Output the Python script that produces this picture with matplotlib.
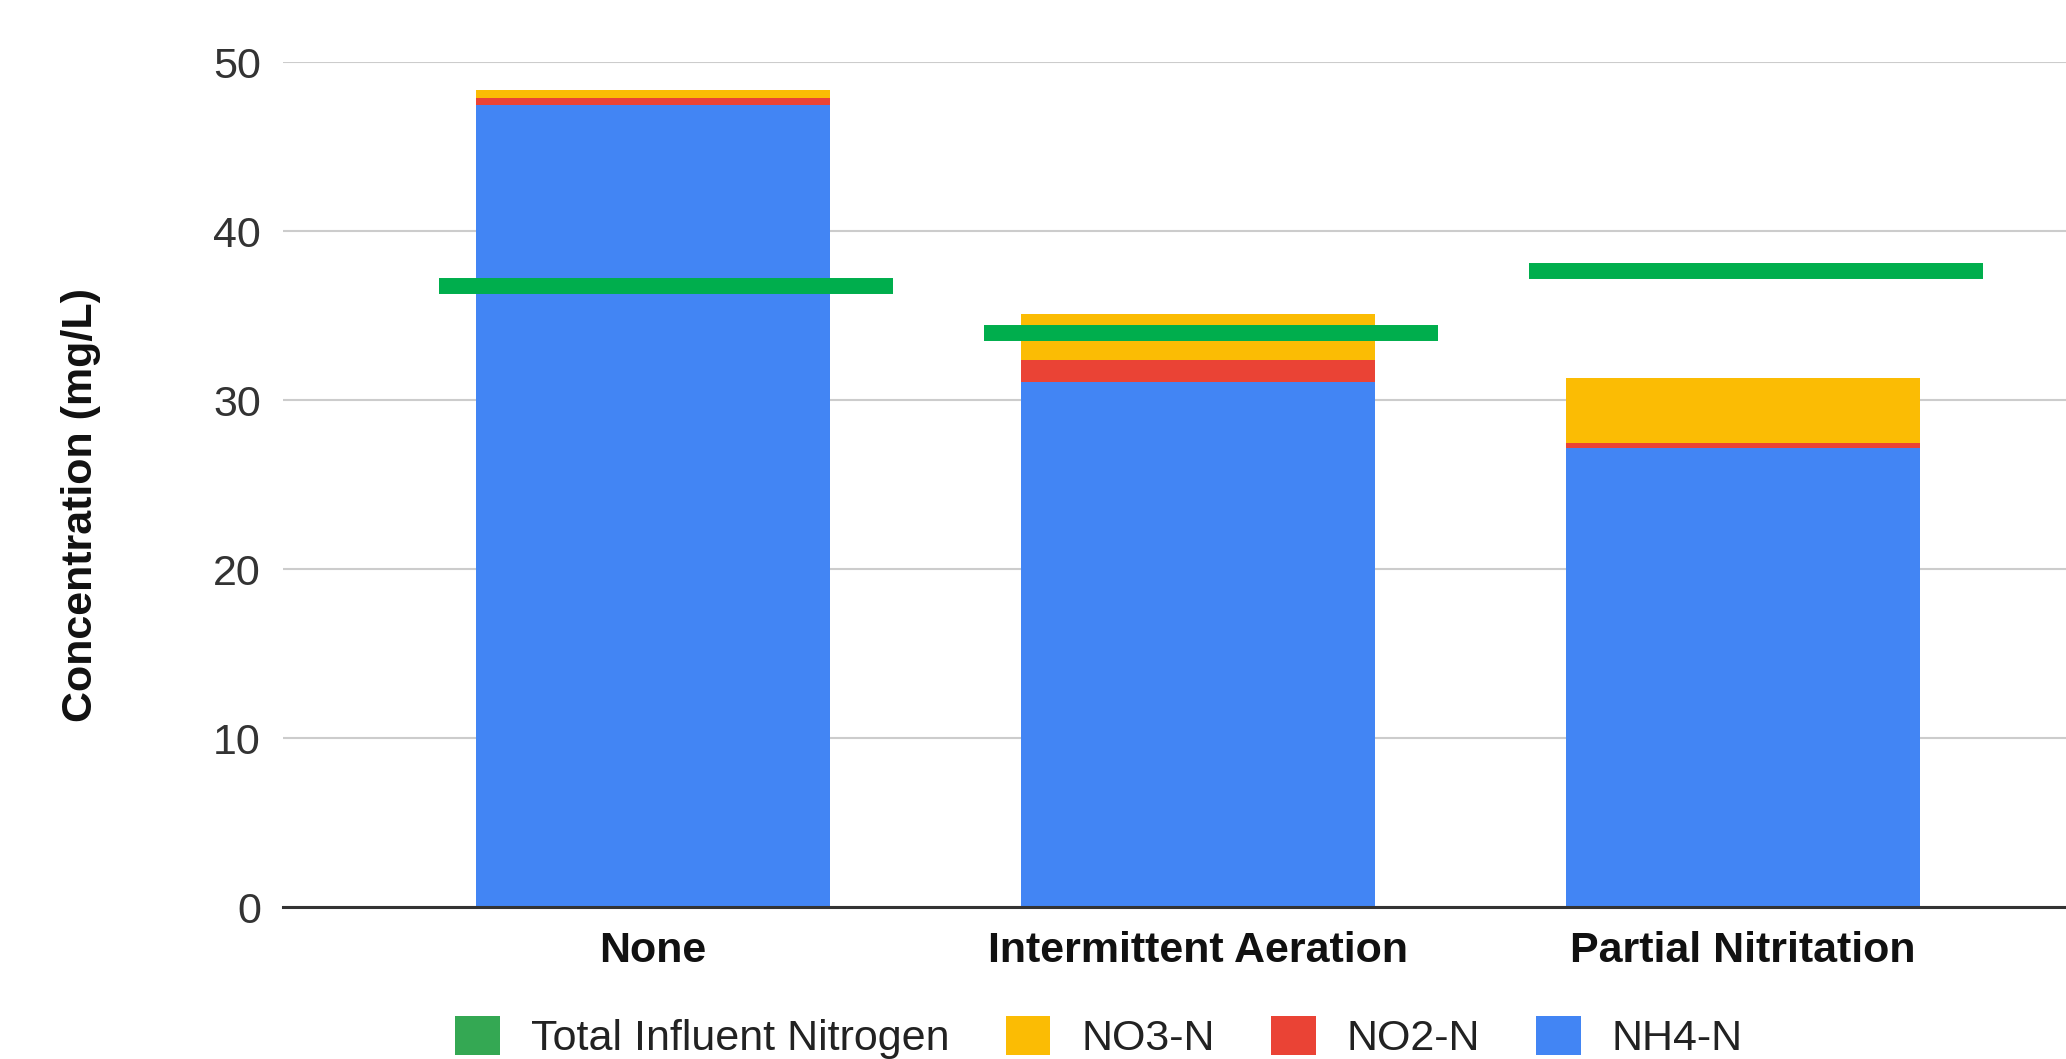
import matplotlib
matplotlib.use("Agg")
import matplotlib.pyplot as plt
from matplotlib.patches import Patch
import numpy as np

# data (mg/L)
categories = ["None", "Intermittent Aeration", "Partial Nitritation"]
nh4 = [47.5, 31.1, 27.2]
no2 = [0.42, 1.28, 0.25]
no3 = [0.44, 2.75, 3.85]
total_influent = [36.75, 34.0, 37.65]

blue = "#4285f4"
red = "#ea4335"
yellow = "#fbbc04"
green = "#00ae4d"

plt.rcParams["font.family"] = ["Liberation Sans", "DejaVu Sans"]
fs = 31

fig = plt.figure(figsize=(20.66, 10.59), dpi=100)
ax = fig.add_axes([0.137, 0.1435, 0.863, 0.7975])

x = np.arange(len(categories))
w = 0.65
ax.bar(x, nh4, w, color=blue, zorder=2)
ax.bar(x, no2, w, bottom=nh4, color=red, zorder=2)
ax.bar(x, no3, w, bottom=np.add(nh4, no2), color=yellow, zorder=2)

# influent total drawn as a thick horizontal marker per category
for xi, t in zip(x, total_influent):
    ax.hlines(t, xi - 0.393, xi + 0.44, color=green, linewidth=11.5, zorder=3)

ax.set_xlim(-0.679, 2.593)
ax.set_ylim(0, 50)
ax.set_yticks([0, 10, 20, 30, 40, 50])
ax.grid(axis="y", color="#cccccc", linewidth=1.5, zorder=0)
ax.set_axisbelow(True)

for s in ["top", "right", "left"]:
    ax.spines[s].set_visible(False)
ax.spines["bottom"].set_color("#333333")
ax.spines["bottom"].set_linewidth(2.2)
ax.spines["bottom"].set_zorder(4)

ax.set_xticks(x)
ax.set_xticklabels(categories, fontsize=fs, fontweight="bold", color="#111111")
ax.tick_params(axis="x", length=0, pad=17)
ax.tick_params(axis="y", length=0, pad=16, labelsize=fs, labelcolor="#333333")

ax.set_ylabel("Concentration (mg/L)", fontsize=fs, fontweight="bold", color="#111111")
ax.yaxis.set_label_coords(-0.102, 0.476)

handles = [
    Patch(facecolor="#34a853", label="Total Influent Nitrogen"),
    Patch(facecolor=yellow, label="NO3-N"),
    Patch(facecolor=red, label="NO2-N"),
    Patch(facecolor=blue, label="NH4-N"),
]
fig.legend(handles=handles, loc="center", bbox_to_anchor=(0.532, 0.020), ncol=4,
           frameon=False, fontsize=fs, handlelength=1.04, handleheight=1.0,
           handletextpad=0.72, columnspacing=1.3, labelcolor="#222222")

fig.savefig("out.png", dpi=100)
